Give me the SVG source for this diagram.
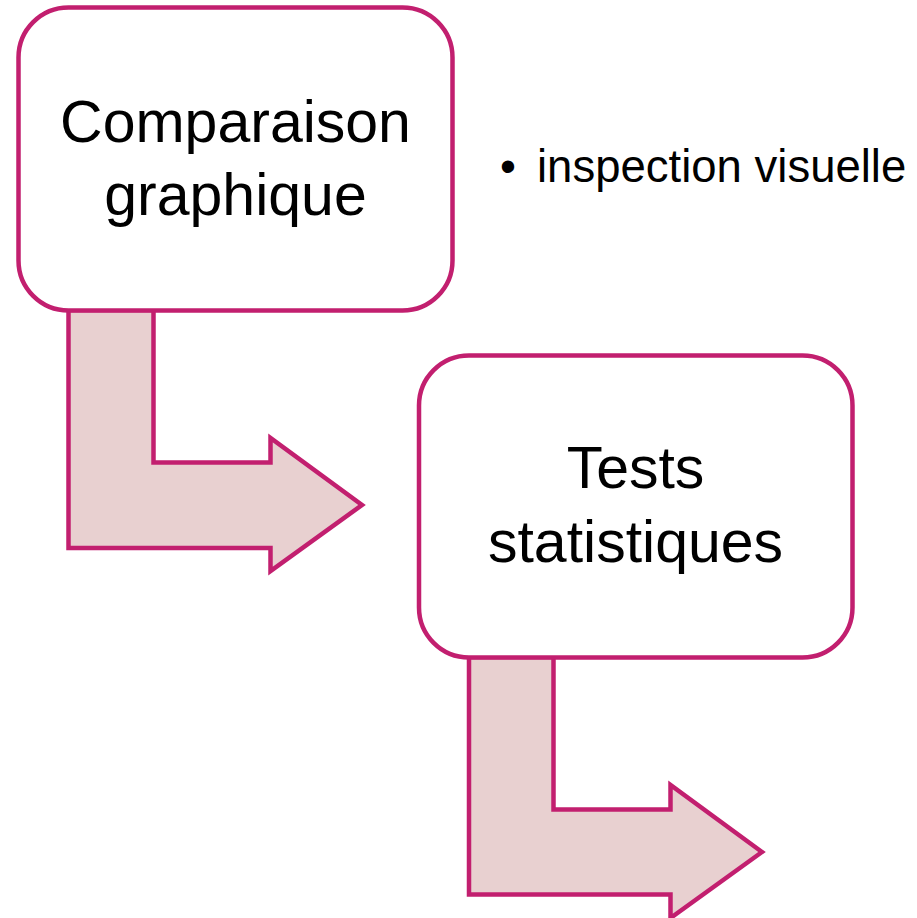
<svg xmlns="http://www.w3.org/2000/svg" width="917" height="918" viewBox="0 0 917 918">
<style>
.box{fill:#FFFFFF;stroke:#C21F6F;stroke-width:4.5}
.arrow{fill:#E8D0D0;stroke:#C21F6F;stroke-width:4.5;stroke-linejoin:miter}
.lbl{font-family:"Liberation Sans",Arial,sans-serif;font-size:59px;fill:#000000;text-anchor:middle}
.bul{font-family:"Liberation Sans",Arial,sans-serif;font-size:45.5px;fill:#000000}
</style>
<rect width="917" height="918" fill="#FFFFFF"/>
<g id="connectors">
<polygon class="arrow" points="68.5,310 153.5,310 153.5,462.5 270.5,462.5 270.5,438 362,505 270.5,571 270.5,548 68.5,548"/>
<polygon class="arrow" points="469,657 553.5,657 553.5,809.5 670.5,809.5 670.5,785 762,852 670.5,918 670.5,894.5 469,894.5"/>
</g>
<g id="node-comparaison">
<rect class="box" x="18.5" y="7.5" width="434" height="303" rx="50" ry="50"/>
<text class="lbl" x="235.5" y="142">Comparaison</text>
<text class="lbl" x="235.5" y="215">graphique</text>
</g>
<g id="node-tests">
<rect class="box" x="419" y="355.5" width="433.5" height="302" rx="50" ry="50"/>
<text class="lbl" x="635.5" y="488">Tests</text>
<text class="lbl" x="635.5" y="562">statistiques</text>
</g>
<g id="bullet-inspection">
<text class="bul" y="182"><tspan x="500">•</tspan><tspan x="537">inspection visuelle</tspan></text>
</g>
</svg>
